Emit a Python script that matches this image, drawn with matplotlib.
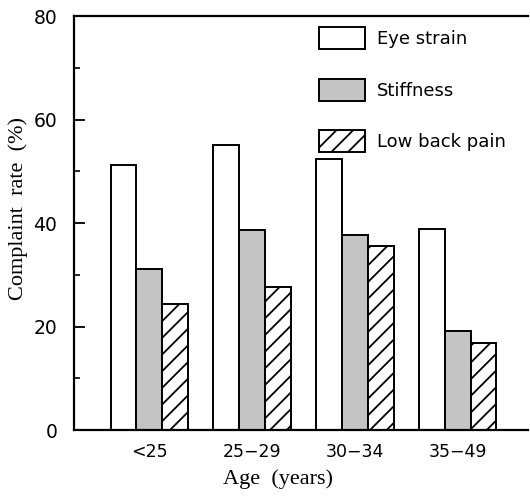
import numpy as np
import matplotlib
matplotlib.use("Agg")
import matplotlib.pyplot as plt
from matplotlib.ticker import MultipleLocator

age_groups = ["<25", "25\u221229", "30\u221234", "35\u221249"]
eye_strain = [51.2, 55.1, 52.3, 38.8]
stiffness = [31.1, 38.6, 37.7, 19.2]
low_back_pain = [24.3, 27.7, 35.6, 16.8]

plt.rcParams['hatch.linewidth'] = 1.3

fig = plt.figure(figsize=(5.30, 4.97), dpi=100)
ax = fig.add_axes([0.1396, 0.1348, 0.8564, 0.8330])

x = np.arange(len(age_groups))
w = 0.25
ax.bar(x - w, eye_strain, w, facecolor='white', edgecolor='black', linewidth=1.4, label='Eye strain')
ax.bar(x, stiffness, w, facecolor='#c4c4c4', edgecolor='black', linewidth=1.4, label='Stiffness')
ax.bar(x + w, low_back_pain, w, facecolor='white', edgecolor='black', linewidth=1.4,
       hatch='//', label='Low back pain')

ax.set_xlim(-0.73, 3.68)
ax.set_ylim(0, 80)
ax.set_xticks(x)
ax.set_xticklabels(age_groups)
ax.yaxis.set_major_locator(MultipleLocator(20))
ax.yaxis.set_minor_locator(MultipleLocator(10))
ax.tick_params(axis='y', which='major', direction='in', length=8, width=1.3, pad=12, labelsize=13.5)
ax.tick_params(axis='y', which='minor', direction='in', length=4, width=1.2)
ax.tick_params(axis='x', length=0, pad=9, labelsize=12.5)

ax.spines['right'].set_visible(False)
for s in ['left', 'top', 'bottom']:
    ax.spines[s].set_linewidth(1.6)

ax.set_xlabel('Age  (years)', family='Liberation Serif', fontsize=16, labelpad=6)
ax.set_ylabel('Complaint  rate  (%)', family='Liberation Serif', fontsize=16, labelpad=4)
ax.xaxis.label.set_x(0.45)
ax.yaxis.label.set_y(0.536)

leg = ax.legend(loc='upper left', bbox_to_anchor=(0.505, 1.012), frameon=False, fontsize=13,
                handlelength=2.5, handleheight=1.5, labelspacing=1.62, handletextpad=0.7)

fig.savefig('out.png', dpi=100)
